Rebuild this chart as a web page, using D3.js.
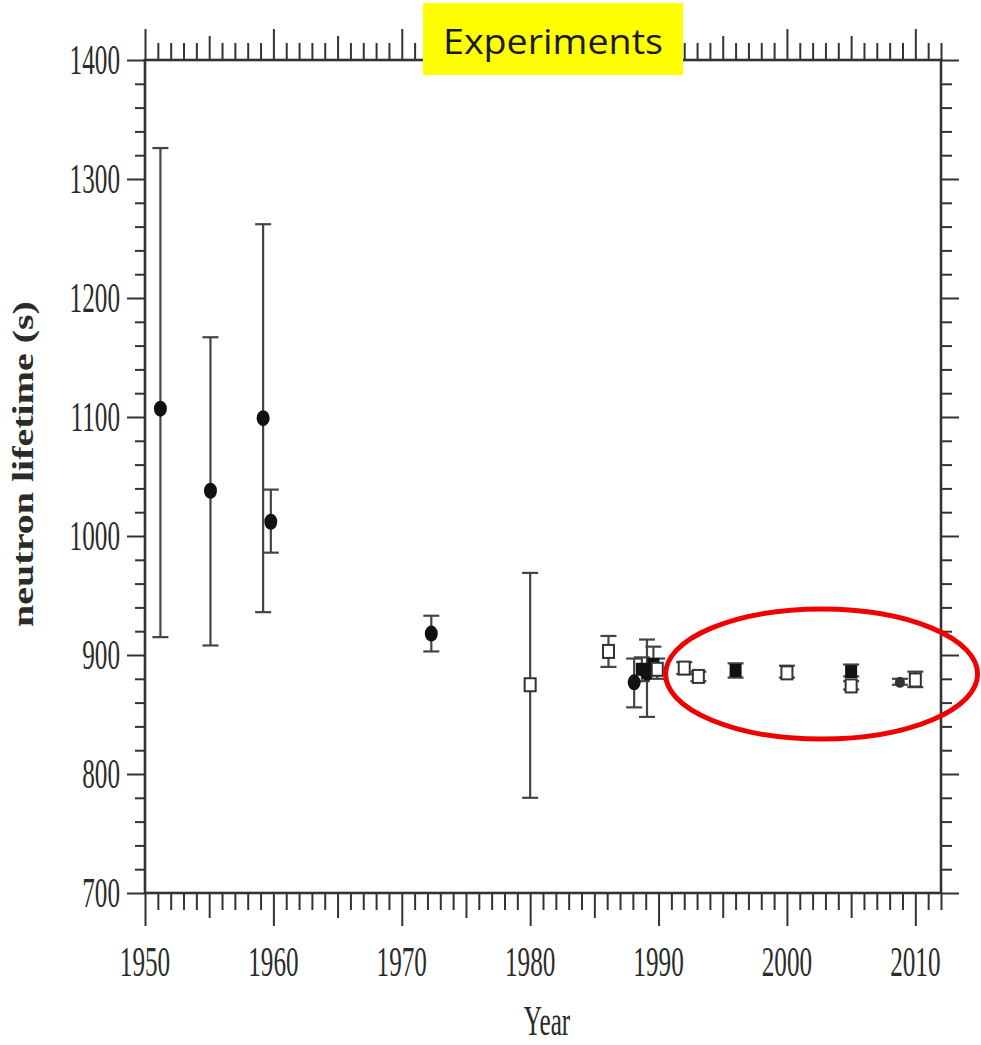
<!DOCTYPE html>
<html>
<head>
<meta charset="utf-8">
<script src="https://cdn.jsdelivr.net/npm/d3@7/dist/d3.min.js"></script>
<style>
  html, body { margin: 0; padding: 0; background: #ffffff; }
  svg { display: block; }
</style>
</head>
<body>
<svg id="chart" width="981" height="1045"></svg>
<script>
// Measured neutron lifetimes by year of publication
const years     = [1951.2, 1955.1, 1959.2, 1959.8, 1972.3, 1980.0, 1986.1, 1988.1, 1988.7, 1989.1, 1989.6, 1989.9, 1992.0, 1993.1, 1996.0, 2000.0, 2005.0, 2005.0, 2008.8, 2010.0];
const lifetimes = [1107, 1038, 1099, 1012, 918, 875, 903, 877, 888, 885, 892, 888, 889, 882, 887, 885, 886, 874, 877, 879];
const errLow    = [915, 908, 936, 986, 903, 780, 890, 856, 878, 848, 885, 880, 884, 878, 881, 881, 882, 871, 875, 873];
const errHigh   = [1326, 1167, 1262, 1039, 933, 969, 916, 897, 898, 913, 907, 897, 894, 886, 893, 891, 892, 878, 880, 886];
const markers   = ["circle", "circle", "circle", "circle", "circle", "square", "square", "circle", "filled", "circle", "filled", "square", "square", "square", "filled", "square", "filled", "square", "dot", "square"];

// Axis ticks and labels
const xTickLabels = [1950, 1960, 1970, 1980, 1990, 2000, 2010];
const yTickLabels = [700, 800, 900, 1000, 1100, 1200, 1300, 1400];
const xTitle = "Year";
const yTitle = "neutron lifetime (s)";
const bannerText = "Experiments";

const svg = d3.select("#chart");

const plotL = 145, plotR = 941, plotT = 60, plotB = 893;
const x = d3.scaleLinear().domain([1950, 2012]).range([plotL, plotR]);
const y = d3.scaleLinear().domain([700, 1400]).range([plotB, plotT]);

const ink = "#333333";
const textInk = "#2b2b2b";
const squeeze = 0.6; // horizontal compression of the serif lettering

// tick value sets
const allYears = d3.range(1950, 2013, 1);
const yearsMinor = allYears.filter(v => v % 5 !== 0);
const yearsMid = allYears.filter(v => v % 5 === 0 && v % 10 !== 0);
const yearsMajor = allYears.filter(v => v % 10 === 0);
const yAll = d3.range(700, 1401, 20);
const yMinor = yAll.filter(v => v % 100 !== 0);
const yMajor = yAll.filter(v => v % 100 === 0);

function tickAxis(axisFn, scale, values, size, tx, ty) {
  const g = svg.append("g")
    .attr("transform", `translate(${tx},${ty})`)
    .call(axisFn(scale).tickValues(values).tickSize(size).tickSizeOuter(0).tickFormat(""));
  g.select(".domain").remove();
  g.selectAll(".tick line").attr("stroke", ink).attr("stroke-width", 2);
  return g;
}

// bottom and top ticks (pointing outward)
tickAxis(d3.axisBottom, x, yearsMinor, 17, 0, plotB);
tickAxis(d3.axisBottom, x, yearsMid, 25, 0, plotB);
tickAxis(d3.axisBottom, x, yearsMajor, 33, 0, plotB);
tickAxis(d3.axisTop, x, yearsMinor, 17, 0, plotT);
tickAxis(d3.axisTop, x, yearsMid, 24, 0, plotT);
tickAxis(d3.axisTop, x, yearsMajor, 31, 0, plotT);

// left and right ticks (pointing outward)
tickAxis(d3.axisLeft, y, yMinor, 10, plotL, 0);
tickAxis(d3.axisLeft, y, yMajor, 18, plotL, 0);
tickAxis(d3.axisRight, y, yMinor, 11, plotR, 0);
tickAxis(d3.axisRight, y, yMajor, 18, plotR, 0);

// frame
svg.append("rect")
  .attr("x", plotL).attr("y", plotT)
  .attr("width", plotR - plotL).attr("height", plotB - plotT)
  .attr("fill", "none").attr("stroke", ink).attr("stroke-width", 2.6);

// tick labels
svg.append("g").selectAll("text")
  .data(xTickLabels).join("text")
  .attr("transform", d => `translate(${x(d)},976) scale(${squeeze},1)`)
  .attr("text-anchor", "middle")
  .attr("font-family", "Liberation Serif, Times New Roman, serif")
  .attr("font-size", 42)
  .attr("fill", textInk)
  .text(d => d);

svg.append("g").selectAll("text")
  .data(yTickLabels).join("text")
  .attr("transform", d => `translate(120,${y(d) + 14}) scale(${squeeze},1)`)
  .attr("text-anchor", "end")
  .attr("font-family", "Liberation Serif, Times New Roman, serif")
  .attr("font-size", 42)
  .attr("fill", textInk)
  .text(d => d);

// axis titles
svg.append("text")
  .attr("transform", `translate(547,1035) scale(${squeeze},1)`)
  .attr("text-anchor", "middle")
  .attr("font-family", "Liberation Serif, Times New Roman, serif")
  .attr("font-size", 42)
  .attr("fill", textInk)
  .text(xTitle);

svg.append("text")
  .attr("transform", `translate(33,464) scale(0.72,1) rotate(-90)`)
  .attr("text-anchor", "middle")
  .attr("font-family", "Liberation Serif, Times New Roman, serif")
  .attr("font-weight", "bold")
  .attr("font-size", 40)
  .attr("fill", textInk)
  .text(yTitle);

// data: error bars then markers
const data = years.map((yr, i) => ({ yr, v: lifetimes[i], lo: errLow[i], hi: errHigh[i], m: markers[i] }));
const cap = 8;
const eg = svg.append("g").attr("stroke", "#444").attr("stroke-width", 2.2).attr("fill", "none");
data.forEach(d => {
  eg.append("line").attr("x1", x(d.yr)).attr("x2", x(d.yr)).attr("y1", y(d.lo)).attr("y2", y(d.hi));
  eg.append("line").attr("x1", x(d.yr) - cap).attr("x2", x(d.yr) + cap).attr("y1", y(d.lo)).attr("y2", y(d.lo));
  eg.append("line").attr("x1", x(d.yr) - cap).attr("x2", x(d.yr) + cap).attr("y1", y(d.hi)).attr("y2", y(d.hi));
});

const mg = svg.append("g");
data.forEach(d => {
  const cx = x(d.yr), cy = y(d.v);
  if (d.m === "circle") {
    mg.append("ellipse").attr("cx", cx).attr("cy", cy).attr("rx", 6.5).attr("ry", 8).attr("fill", "#111");
  } else if (d.m === "dot") {
    mg.append("ellipse").attr("cx", cx).attr("cy", cy).attr("rx", 5).attr("ry", 5.5).attr("fill", "#333");
  } else if (d.m === "filled") {
    mg.append("rect").attr("x", cx - 6).attr("y", cy - 6.5).attr("width", 12).attr("height", 13).attr("fill", "#111");
  } else {
    mg.append("rect").attr("x", cx - 5.5).attr("y", cy - 6.5).attr("width", 11).attr("height", 13)
      .attr("fill", "#ffffff").attr("stroke", "#333").attr("stroke-width", 2);
  }
});

// banner
svg.append("rect")
  .attr("x", 423).attr("y", 3).attr("width", 260).attr("height", 72)
  .attr("fill", "#ffff00");
svg.append("text")
  .attr("x", 553).attr("y", 54)
  .attr("text-anchor", "middle")
  .attr("font-family", "Open Sans, Noto Sans, sans-serif")
  .attr("font-size", 35)
  .attr("textLength", 220).attr("lengthAdjust", "spacingAndGlyphs")
  .attr("fill", "#1a1a1a")
  .text(bannerText);

// highlight ring around the recent measurements
svg.append("ellipse")
  .attr("cx", x(2002.7)).attr("cy", y(884))
  .attr("rx", 156).attr("ry", 65)
  .attr("fill", "none").attr("stroke", "#f00000").attr("stroke-width", 5);
</script>
</body>
</html>
